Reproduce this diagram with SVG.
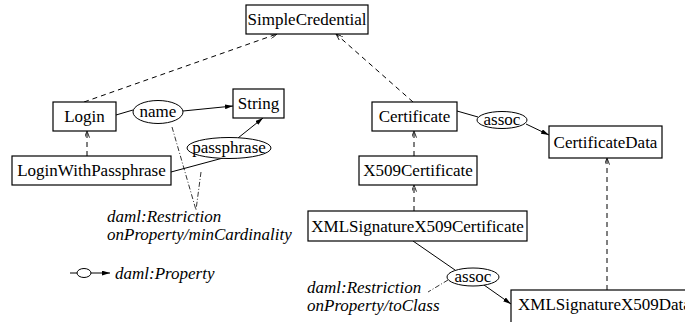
<svg xmlns="http://www.w3.org/2000/svg" width="685" height="322" viewBox="0 0 685 322">
<defs>
<style>
.box{fill:#fff;stroke:#000;stroke-width:1.2}
.ell{fill:#fff;stroke:#000;stroke-width:1}
.t{font-family:"Liberation Serif","Times New Roman",serif;font-size:17px;fill:#000}
.c{text-anchor:middle}
.i{font-style:italic}
.solid{stroke:#000;stroke-width:1;fill:none}
.dash{stroke:#000;stroke-width:1;fill:none;stroke-dasharray:5,4}
.dd{stroke:#000;stroke-width:0.8;fill:none;stroke-dasharray:5,2,1,2}
</style>
<marker id="arr" viewBox="0 0 10 6" refX="10" refY="3" markerWidth="8" markerHeight="5" orient="auto" markerUnits="userSpaceOnUse">
<path d="M0,0 L10,3 L0,6 z" fill="#000"/>
</marker>
<marker id="open" viewBox="0 0 8 6" refX="8" refY="3" markerWidth="7" markerHeight="5" orient="auto" markerUnits="userSpaceOnUse">
<path d="M0,0 L8,3 L0,6" fill="none" stroke="#000" stroke-width="1"/>
</marker>
</defs>
<g id="connectors">
<line class="dash" x1="84" y1="102" x2="277" y2="34" marker-end="url(#open)"/>
<line class="dash" x1="413" y1="102" x2="336" y2="34" marker-end="url(#open)"/>
<line class="dash" x1="87" y1="156" x2="87" y2="131" marker-end="url(#open)"/>
<line class="solid" x1="116" y1="115" x2="133" y2="110"/>
<line class="solid" x1="183" y1="111" x2="233" y2="106" marker-end="url(#arr)"/>
<line class="solid" x1="171" y1="172" x2="223" y2="158"/>
<line class="solid" x1="238" y1="138" x2="263" y2="118" marker-end="url(#arr)"/>
<line class="dd" x1="172" y1="127" x2="196" y2="210"/>
<line class="dd" x1="201" y1="172" x2="196" y2="210"/>
<line class="solid" x1="457" y1="111" x2="478" y2="117"/>
<line class="solid" x1="526" y1="124" x2="549" y2="135" marker-end="url(#arr)"/>
<line class="dash" x1="414" y1="156" x2="414" y2="131" marker-end="url(#open)"/>
<line class="dash" x1="414" y1="211" x2="414" y2="185" marker-end="url(#open)"/>
<line class="solid" x1="413" y1="241" x2="455" y2="270"/>
<line class="solid" x1="484" y1="285" x2="511" y2="304" marker-end="url(#arr)"/>
<line class="dash" x1="607" y1="290" x2="607" y2="158" marker-end="url(#open)"/>
<line class="dd" x1="448" y1="280" x2="428" y2="292"/>
</g>
<g id="SimpleCredential"><rect class="box" x="246" y="5" width="122" height="29"/><text class="t c" x="307" y="25">SimpleCredential</text></g>
<g id="Login"><rect class="box" x="53" y="102" width="63" height="29"/><text class="t c" x="84.5" y="122">Login</text></g>
<g id="String"><rect class="box" x="233" y="89" width="51" height="29"/><text class="t c" x="258.5" y="109">String</text></g>
<g id="LoginWithPassphrase"><rect class="box" x="12" y="156" width="159" height="29"/><text class="t c" x="91.5" y="176">LoginWithPassphrase</text></g>
<g id="name"><ellipse class="ell" cx="158" cy="112" rx="25" ry="11.5"/><text class="t c" x="158" y="117">name</text></g>
<g id="passphrase"><ellipse class="ell" cx="229" cy="148" rx="42" ry="10.5"/><text class="t c" x="229" y="153">passphrase</text></g>
<g id="Certificate"><rect class="box" x="372" y="102" width="85" height="29"/><text class="t c" x="414.5" y="122">Certificate</text></g>
<g id="assoc1"><ellipse class="ell" cx="502" cy="120" rx="25" ry="8.5"/><text class="t c" x="502" y="125">assoc</text></g>
<g id="CertificateData"><rect class="box" x="549" y="126" width="113" height="32"/><text class="t c" x="605.5" y="148">CertificateData</text></g>
<g id="X509Certificate"><rect class="box" x="359" y="156" width="118" height="29"/><text class="t c" x="418" y="176">X509Certificate</text></g>
<g id="XMLSignatureX509Certificate"><rect class="box" x="308" y="211" width="219" height="30"/><text class="t c" x="417.5" y="232">XMLSignatureX509Certificate</text></g>
<g id="assoc2"><ellipse class="ell" cx="473" cy="277" rx="26" ry="9"/><text class="t c" x="473" y="282">assoc</text></g>
<g id="XMLSignatureX509Data"><rect class="box" x="511" y="290" width="200" height="40"/><text class="t" x="518" y="310">XMLSignatureX509Data</text></g>
<g id="restriction1"><text class="t i" x="107" y="222">daml:Restriction</text><text class="t i" x="107" y="240">onProperty/minCardinality</text></g>
<g id="restriction2"><text class="t i" x="307" y="293">daml:Restriction</text><text class="t i" x="307" y="311">onProperty/toClass</text></g>
<g id="legend">
<line class="solid" x1="70" y1="273" x2="110" y2="273" marker-end="url(#arr)"/>
<ellipse class="ell" cx="84" cy="273" rx="7" ry="4.5"/>
<text class="t i" x="115" y="279">daml:Property</text>
</g>
</svg>
